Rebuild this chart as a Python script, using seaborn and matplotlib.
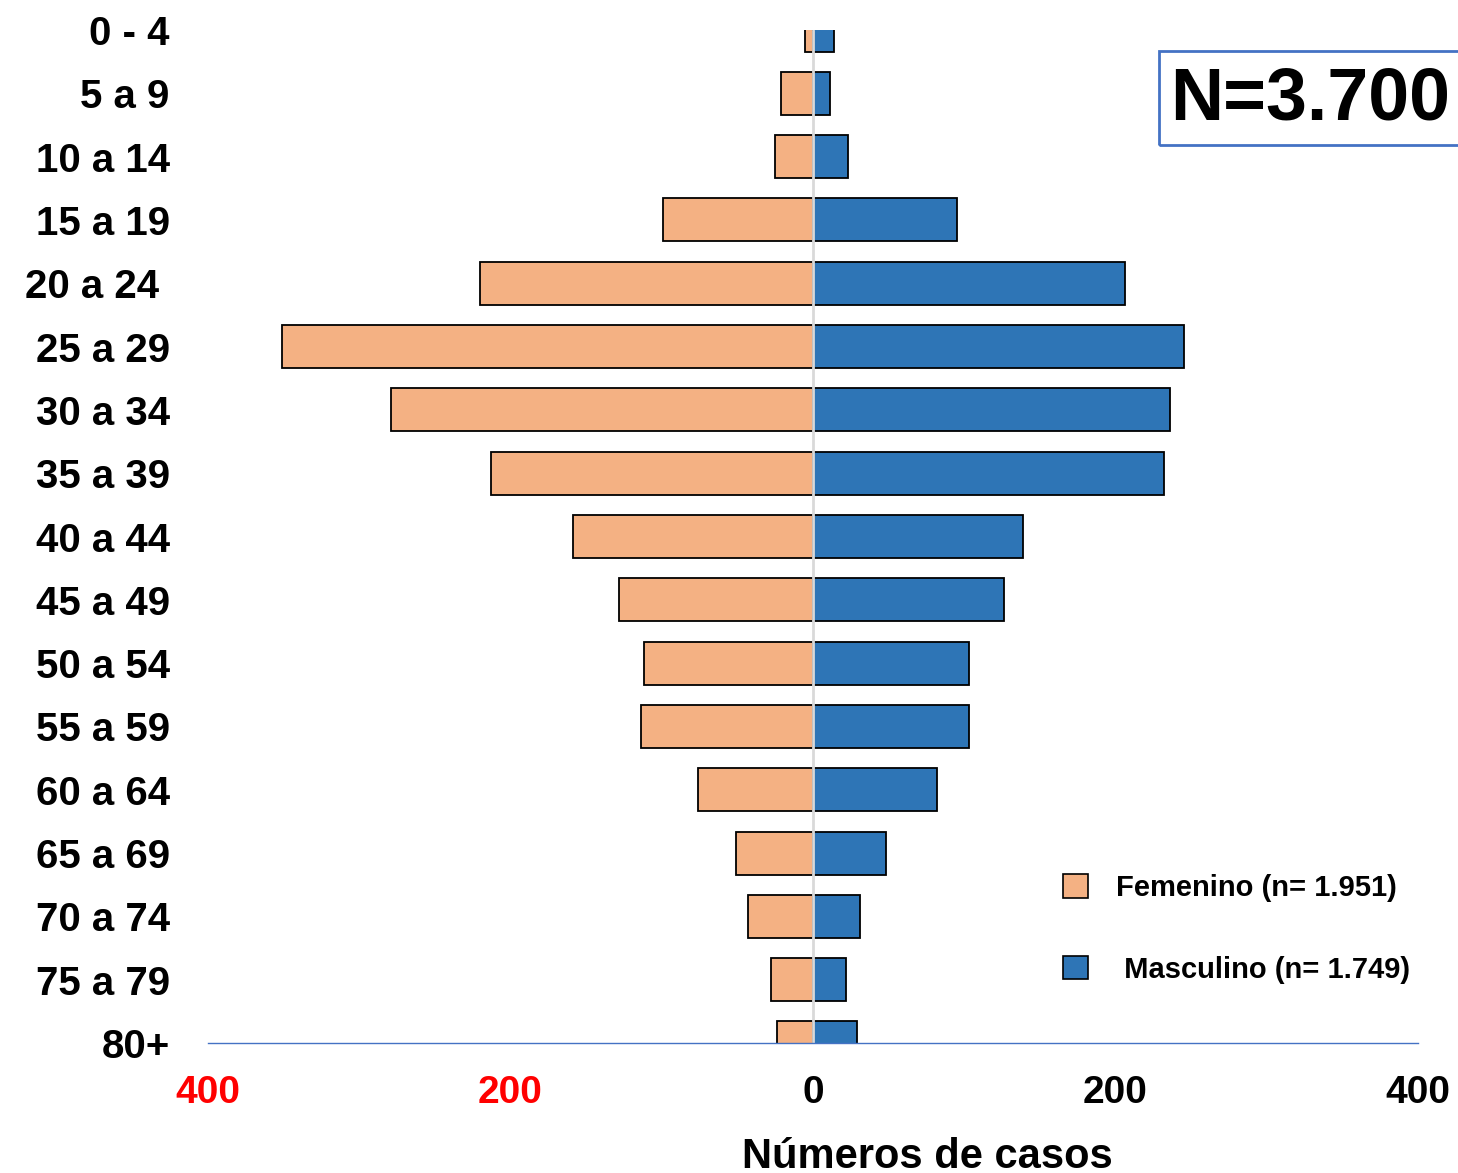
import matplotlib
matplotlib.use("Agg")
import matplotlib.pyplot as plt
from matplotlib.patches import Patch, Rectangle
import seaborn as sns
import pandas as pd

age_groups = ["0 - 4", "5 a 9", "10 a 14", "15 a 19", "20 a 24 ", "25 a 29", "30 a 34",
              "35 a 39", "40 a 44", "45 a 49", "50 a 54", "55 a 59", "60 a 64",
              "65 a 69", "70 a 74", "75 a 79", "80+"]
femenino = [5, 21, 25, 99, 220, 351, 279, 213, 159, 128, 112, 114, 76, 51, 43, 28, 24]
masculino = [14, 11, 23, 95, 206, 245, 236, 232, 139, 126, 103, 103, 82, 48, 31, 22, 29]
xticks = [-400, -200, 0, 200, 400]
xtick_labels = ["400", "200", "0", "200", "400"]
legend_labels = ["Femenino (n= 1.951)", " Masculino (n= 1.749)"]
total_label = "N=3.700"

col_f = "#F4B183"
col_m = "#2E75B6"

sns.set_theme(style="white")
plt.rcParams["font.family"] = ["Liberation Sans", "DejaVu Sans"]
plt.rcParams["font.weight"] = "bold"

df = pd.DataFrame({
    "age": age_groups * 2,
    "sexo": ["F"] * len(age_groups) + ["M"] * len(age_groups),
    "valor": [-v for v in femenino] + masculino,
})

W, H = 1458, 1173
fig = plt.figure(figsize=(W / 100, H / 100), dpi=100)
ax = fig.add_axes([208 / W, 1 - 1043 / H, (1418 - 208) / W, (1043 - 30) / H])

sns.barplot(data=df, x="valor", y="age", hue="sexo", order=age_groups,
            palette={"F": col_f, "M": col_m}, dodge=False, saturation=1,
            width=0.68, edgecolor="black", linewidth=1.3, legend=False,
            orient="h", ax=ax)

ax.set_xlim(-400, 400)
ax.set_ylim(len(age_groups) - 1, 0)
ax.axvline(0, color="#D9D9D9", lw=2, zorder=5)

for s in ["top", "right", "left"]:
    ax.spines[s].set_visible(False)
ax.spines["bottom"].set_color("#4472C4")
ax.spines["bottom"].set_linewidth(1.0)
ax.spines["bottom"].set_zorder(6)

ax.set_xticks(xticks)
ax.set_xticklabels(xtick_labels, fontsize=28, fontweight="bold")
for lbl, v in zip(ax.get_xticklabels(), xticks):
    lbl.set_color("red" if v < 0 else "black")
ax.tick_params(axis="x", length=0, pad=23)
ax.tick_params(axis="y", length=0, pad=27.5, labelsize=29)
for lbl in ax.get_yticklabels():
    lbl.set_fontweight("bold")
    lbl.set_color("black")
ax.set_xlabel("")
ax.set_ylabel("")

fig.text(927 / W, 1 - 1137 / H, "Números de casos", ha="center", va="top",
         fontsize=30, fontweight="bold", color="black")

handles = [Patch(facecolor=col_f, edgecolor="black", lw=1.2),
           Patch(facecolor=col_m, edgecolor="black", lw=1.2)]
ax.legend(handles, legend_labels, loc="upper left",
          bbox_to_anchor=(1063 / W, 1 - 874 / H), bbox_transform=fig.transFigure,
          frameon=False, handlelength=0.85, handleheight=0.85,
          handletextpad=0.95, labelspacing=1.85, borderpad=0, borderaxespad=0,
          prop={"weight": "bold", "size": 21}, labelcolor="black")

fig.patches.append(Rectangle((1159 / W, 1 - 145 / H), (1480 - 1159) / W, (145 - 51) / H,
                             transform=fig.transFigure, fill=False,
                             edgecolor="#4472C4", lw=2))
fig.text(1310 / W, 1 - 100 / H, total_label, ha="center", va="center",
         fontsize=53, fontweight="bold", color="black")

fig.savefig("out.png", dpi=100)
